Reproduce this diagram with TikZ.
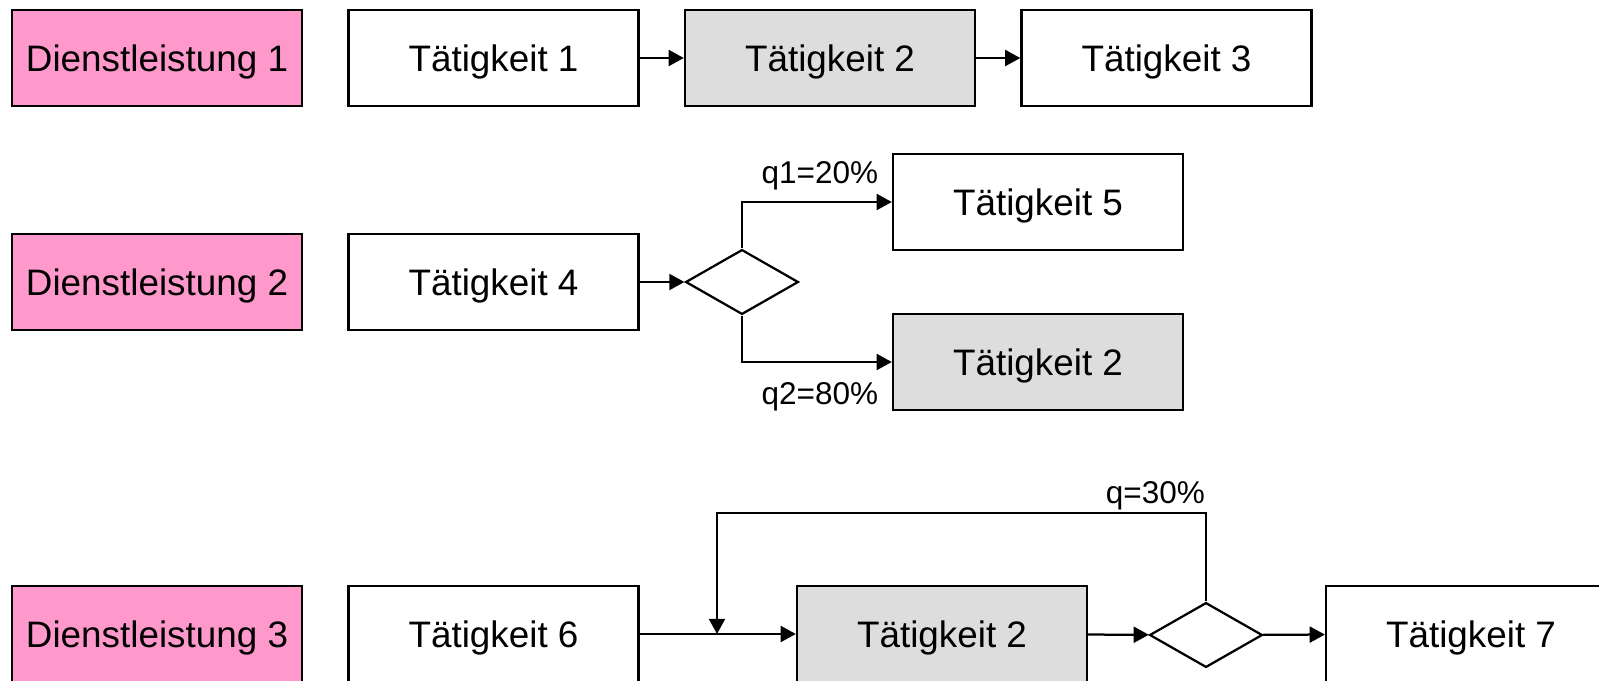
\documentclass[tikz,border=0pt]{standalone}
\usepackage{fontspec}
\setmainfont{Liberation Sans}
\usepackage{tikz}
\usepackage{xcolor}
\usetikzlibrary{arrows.meta, shapes.geometric, positioning, calc}
\definecolor{dpink} {RGB}{255,153,204}
\definecolor{tgray} {RGB}{221,221,221}

\tikzset{
  taet/.style={draw, line width=0.8pt, fill=white, minimum width=3.625cm,
               minimum height=1.2cm, inner sep=0pt, text depth=0pt,
               font=\fontsize{13.1}{15}\selectfont},
  taetgray/.style={taet, fill=tgray},
  dienst/.style={taet, fill=dpink},
  entscheid/.style={draw, line width=0.8pt, diamond, fill=white, inner sep=0pt,
                    minimum width=1.41cm, minimum height=0.81cm},
  pfeil/.style={line width=0.8pt, -{Triangle[length=0.19cm, width=0.2cm]}},
  quote/.style={font=\fontsize{11.2}{13}\selectfont, inner sep=2pt}
}

\begin{document}
\begin{tikzpicture}[x=0.0125cm, y=-0.0125cm]
  \clip (0,0) rectangle (1599,680);
  \fill[white] (0,0) rectangle (1599,680);

  % Dienstleistung 1
  \node[dienst]   (ds1) at (157,58)    {Dienstleistung 1};
  \node[taet]     (t1)  at (493.5,58)  {Tätigkeit 1};
  \node[taetgray] (t2a) at (830,58)    {Tätigkeit 2};
  \node[taet]     (t3)  at (1166.5,58) {Tätigkeit 3};
  \draw[pfeil] (t1) -- (t2a);
  \draw[pfeil] (t2a) -- (t3);

  % Dienstleistung 2
  \node[dienst]    (ds2) at (157,282)   {Dienstleistung 2};
  \node[taet]      (t4)  at (493.5,282) {Tätigkeit 4};
  \node[entscheid] (d1)  at (742,282)   {};
  \node[taet]      (t5)  at (1038,202)  {Tätigkeit 5};
  \node[taetgray]  (t2b) at (1038,362)  {Tätigkeit 2};
  \draw[pfeil] (t4) -- (d1);
  \draw[pfeil] (d1.north) |- node[quote, pos=0.76, above, yshift=1.8pt] {q1=20\%} (t5.west);
  \draw[pfeil] (d1.south) |- node[quote, pos=0.76, below, yshift=-5pt] {q2=80\%} (t2b.west);

  % Dienstleistung 3
  \node[dienst]    (ds3) at (157,634)    {Dienstleistung 3};
  \node[taet]      (t6)  at (493.5,634)  {Tätigkeit 6};
  \node[taetgray]  (t2c) at (942,634)    {Tätigkeit 2};
  \node[entscheid] (d2)  at (1206,635)   {};
  \node[taet]      (t7)  at (1471,634)   {Tätigkeit 7};
  \coordinate (looptop) at (717,513);
  \coordinate (merge)   at (717,634);
  \draw[pfeil] (t6) -- (t2c);
  \draw[pfeil] (t2c) -- (d2);
  \draw[pfeil] (d2) -- (t7);
  \draw[pfeil] (d2.north) |- node[quote, pos=0.5, anchor=south east, inner xsep=0pt, yshift=-1.5pt] {q=30\%} (looptop) -- (merge);
\end{tikzpicture}
\end{document}
